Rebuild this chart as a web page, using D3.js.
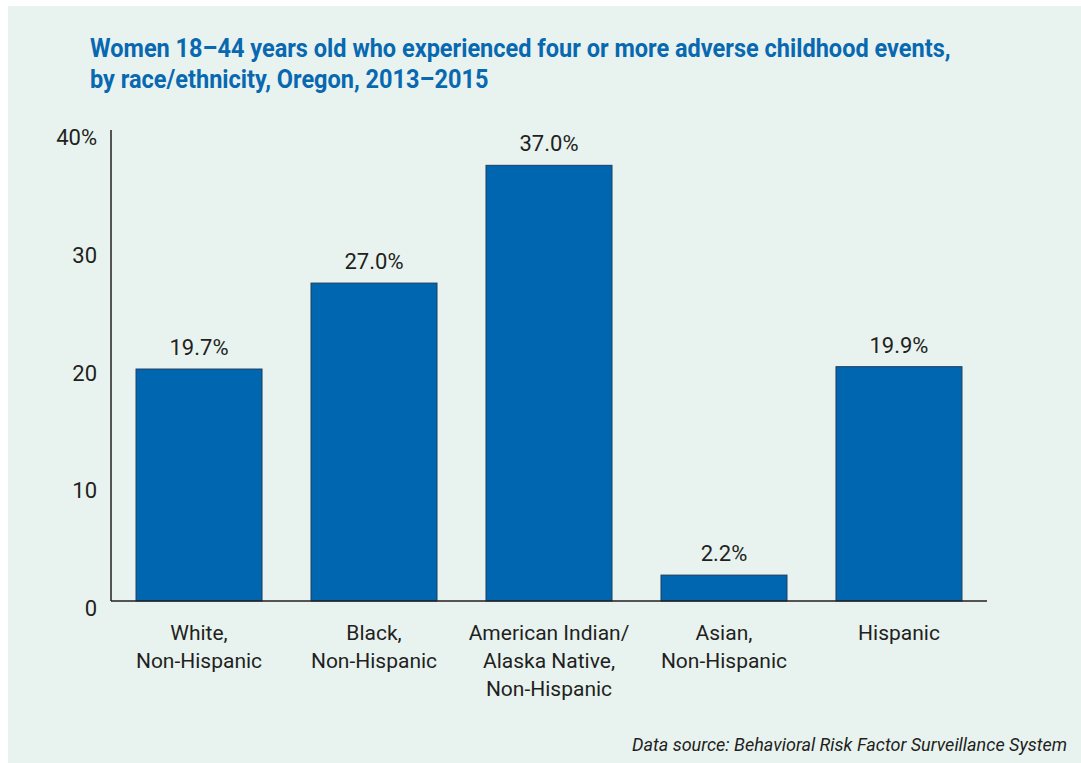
<!DOCTYPE html>
<html>
<head>
    <meta charset="utf-8">
    <title>Adverse childhood events, Oregon</title>
    <script src="https://cdnjs.cloudflare.com/ajax/libs/d3/7.8.5/d3.min.js"></script>
    <style>
        html, body {
            margin: 0;
            padding: 0;
            background: #ffffff;
        }
        svg {
            display: block;
            font-family: "Roboto", "Liberation Sans", sans-serif;
        }
        .title {
            fill: #0868b0;
            font-size: 25px;
            font-weight: 700;
        }
        .tick-label, .cat-label, .val-label {
            fill: #231f20;
        }
        .source {
            fill: #231f20;
            font-style: italic;
            font-size: 18px;
        }
    </style>
</head>
<body>
<svg id="chart" width="1081" height="763"></svg>
<script>
    // values
    var categories = [
        ["White,", "Non-Hispanic"],
        ["Black,", "Non-Hispanic"],
        ["American Indian/", "Alaska Native,", "Non-Hispanic"],
        ["Asian,", "Non-Hispanic"],
        ["Hispanic"]
    ];
    var values = [19.7, 27.0, 37.0, 2.2, 19.9];
    var valueLabels = ["19.7%", "27.0%", "37.0%", "2.2%", "19.9%"];
    var yTicks = [0, 10, 20, 30, 40];
    var yTickLabels = ["0", "10", "20", "30", "40%"];
    var titleLines = [
        "Women 18\u201344 years old who experienced four or more adverse childhood events,",
        "by race/ethnicity, Oregon, 2013\u20132015"
    ];
    var sourceText = "Data source: Behavioral Risk Factor Surveillance System";

    var svg = d3.select("#chart");

    // panel background
    svg.append("rect")
        .attr("x", 8).attr("y", 6)
        .attr("width", 1073).attr("height", 757)
        .attr("fill", "#e8f3f0");

    // title - original uses a bold condensed face, so squeeze bold Roboto
    // horizontally until the first line is as wide as in the picture
    var titleG = svg.append("g");
    var title = titleG.append("text")
        .attr("class", "title");
    title.selectAll("tspan")
        .data(titleLines)
        .enter().append("tspan")
        .attr("x", 0)
        .attr("y", function(d, i) { return 57 + i * 31; })
        .text(function(d) { return d; });
    var firstW = title.select("tspan").node().getComputedTextLength();
    var squeeze = 861 / firstW;
    titleG.attr("transform", "translate(90,0) scale(" + squeeze + ",1)");

    // plot area (note: "top" is a reserved window prop, so use plotTop)
    var plotLeft = 111, plotRight = 987, plotTop = 130, plotBottom = 601;

    var x = d3.scaleBand()
        .domain(d3.range(categories.length))
        .range([plotLeft, plotRight])
        .paddingInner(0.28)
        .paddingOuter(0.143);

    var y = d3.scaleLinear()
        .domain([0, 40])
        .range([plotBottom, plotTop]);

    // bars
    svg.append("g").selectAll("rect")
        .data(values)
        .enter().append("rect")
        .attr("x", function(d, i) { return x(i); })
        .attr("y", function(d) { return y(d); })
        .attr("width", x.bandwidth())
        .attr("height", function(d) { return y(0) - y(d); })
        .attr("fill", "#0066b0")
        .attr("stroke", "#1d3d5e")
        .attr("stroke-width", 1);

    // value labels
    svg.append("g").selectAll("text")
        .data(values)
        .enter().append("text")
        .attr("class", "val-label")
        .attr("x", function(d, i) { return x(i) + x.bandwidth() / 2; })
        .attr("y", function(d) { return y(d) - 14; })
        .attr("text-anchor", "middle")
        .attr("font-size", 22)
        .text(function(d, i) { return valueLabels[i]; });

    // axes lines
    svg.append("line")
        .attr("x1", plotLeft).attr("x2", plotLeft)
        .attr("y1", plotTop).attr("y2", plotBottom)
        .attr("stroke", "#231f20").attr("stroke-width", 1.5);
    svg.append("line")
        .attr("x1", plotLeft).attr("x2", plotRight)
        .attr("y1", plotBottom).attr("y2", plotBottom)
        .attr("stroke", "#231f20").attr("stroke-width", 1.5);

    // y tick labels (no tick marks, labels sit a bit low)
    svg.append("g").selectAll("text")
        .data(yTicks)
        .enter().append("text")
        .attr("class", "tick-label")
        .attr("x", 97)
        .attr("y", function(d) { return y(d) + 15; })
        .attr("text-anchor", "end")
        .attr("font-size", 22)
        .text(function(d, i) { return yTickLabels[i]; });

    // category labels
    var cat = svg.append("g").selectAll("text")
        .data(categories)
        .enter().append("text")
        .attr("class", "cat-label")
        .attr("text-anchor", "middle")
        .attr("font-size", 21);
    cat.selectAll("tspan")
        .data(function(d, i) { return d.map(function(s) { return {s: s, i: i}; }); })
        .enter().append("tspan")
        .attr("x", function(d) { return x(d.i) + x.bandwidth() / 2; })
        .attr("y", function(d, j) { return 640 + j * 28; })
        .text(function(d) { return d.s; });

    // source
    svg.append("text")
        .attr("class", "source")
        .attr("x", 1067)
        .attr("y", 751)
        .attr("text-anchor", "end")
        .text(sourceText);
</script>
</body>
</html>
